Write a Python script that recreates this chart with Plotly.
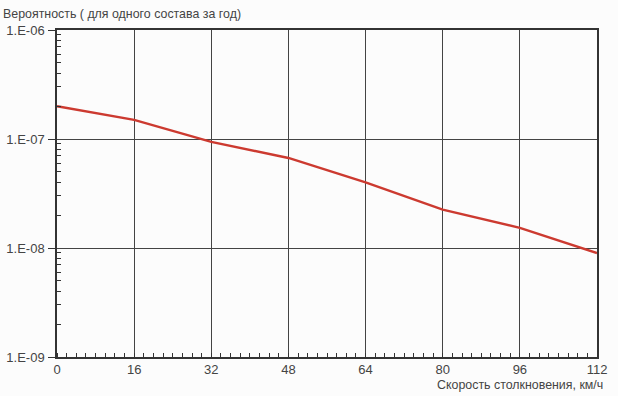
import plotly.graph_objects as go

speed = [0, 16, 32, 48, 64, 80, 96, 112]
probability = [2.0e-7, 1.5e-7, 9.4e-8, 6.7e-8, 4.0e-8, 2.25e-8, 1.53e-8, 9.0e-9]
y_tickvals = [1e-9, 1e-8, 1e-7, 1e-6]
y_ticktext = ["1.E-09", "1.E-08", "1.E-07", "1.E-06"]
x_tickvals = [0, 16, 32, 48, 64, 80, 96, 112]
y_title = "Вероятность ( для одного состава за год)"
x_title = "Скорость столкновения, км/ч"

minor_y = [k * 10.0 ** e for e in (-9, -8, -7) for k in range(2, 10)]

font = dict(family="Liberation Sans, Arial, sans-serif", size=12.4, color="#444444")
tick_font = dict(family="Liberation Sans, Arial, sans-serif", size=13, color="#444444")

fig = go.Figure()
fig.add_trace(go.Scatter(x=speed, y=probability, mode="lines",
                         line=dict(color="#cc3a30", width=2.4), showlegend=False))

fig.update_layout(
    width=618, height=396,
    margin=dict(l=57, r=21, t=30, b=39),
    paper_bgcolor="#fcfcfc", plot_bgcolor="#fcfcfc",
    font=font,
    xaxis=dict(range=[0, 112], tickmode="array", tickvals=x_tickvals, tickfont=tick_font,
               automargin=False,
               showgrid=True, gridcolor="#444444", gridwidth=1.2,
               showline=True, linecolor="#333333", linewidth=1.5, mirror=True,
               ticks="", ticklabelstandoff=0, zeroline=False,
               minor=dict(ticks="inside", ticklen=4, tickcolor="#333333", dtick=2, tick0=0, showgrid=False)),
    yaxis=dict(type="log", range=[-9, -6], tickmode="array", tickvals=y_tickvals, ticktext=y_ticktext,
               tickfont=tick_font, automargin=False,
               showgrid=True, gridcolor="#444444", gridwidth=1.2,
               showline=True, linecolor="#333333", linewidth=1.5, mirror=True,
               ticks="outside", ticklen=7, tickcolor="#333333", ticklabelstandoff=1,
               minor=dict(ticks="inside", ticklen=4, tickcolor="#333333", tickmode="array",
                          tickvals=minor_y, showgrid=False)),
    annotations=[
        dict(text=y_title, xref="paper", yref="paper", x=-56/540, y=1 + 16/327,
             xanchor="left", yanchor="middle", showarrow=False, font=font),
        dict(text=x_title, xref="paper", yref="paper", x=1 + 8/540, y=-28/327,
             xanchor="right", yanchor="middle", showarrow=False, font=font),
    ],
)

fig.write_html("out.html")
